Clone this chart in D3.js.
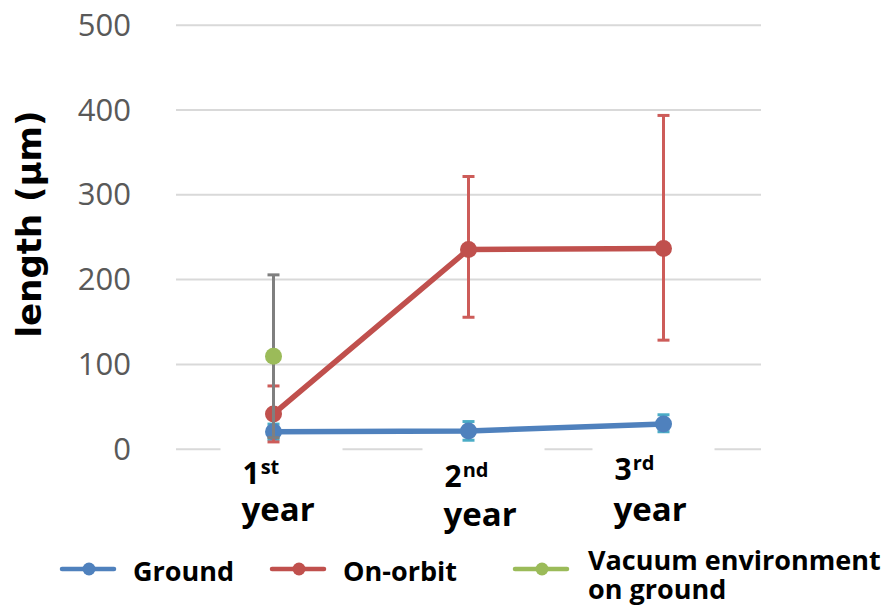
<!DOCTYPE html>
<html>
<head>
<meta charset="utf-8">
<script src="https://cdn.jsdelivr.net/npm/d3@7"></script>
<style>
  body { margin: 0; background: #fff; }
  svg text { font-family: "Open Sans", "Noto Sans", sans-serif; }
</style>
</head>
<body>
<div class="chart"></div>
<script>
// data
const categories = ['1st year', '2nd year', '3rd year'];
const catNum = ['1', '2', '3'];
const catSup = ['st', 'nd', 'rd'];
const yTicks = [0, 100, 200, 300, 400, 500];

const groundVals = [20, 21, 29];
const groundErrUp = [9, 11, 11];
const groundErrLow = [9, 11, 9];

const orbitVals = [41, 235, 236];
const orbitErrUp = [33, 86, 157];
const orbitErrLow = [33, 80, 108];

const vacuumVals = [109, null, null];
const vacuumErrUp = [96, null, null];
const vacuumErrLow = [96, null, null];

const series = [
  { name: 'Ground', vals: groundVals, up: groundErrUp, low: groundErrLow, color: '#4f81bd', errColor: '#4bacc6' },
  { name: 'On-orbit', vals: orbitVals, up: orbitErrUp, low: orbitErrLow, color: '#c0504d', errColor: '#cd5c59' },
  { name: 'Vacuum environment', name2: 'on ground', vals: vacuumVals, up: vacuumErrUp, low: vacuumErrLow, color: '#9bbb59', errColor: '#7f7f7f' }
];

const W = 892, H = 605;
const plotLeft = 176, plotRight = 761, plotTop = 24.7, plotBottom = 448.7;

const svg = d3.select('.chart').append('svg')
  .attr('width', W)
  .attr('height', H);

const x = d3.scalePoint()
  .domain(categories)
  .range([plotLeft, plotRight])
  .padding(0.5);

const y = d3.scaleLinear()
  .domain([0, 500])
  .range([plotBottom, plotTop]);

// gridlines (the 0 line is the axis)
svg.append('g')
  .attr('transform', `translate(${plotLeft},0)`)
  .call(d3.axisLeft(y).tickValues(yTicks).tickSize(-(plotRight - plotLeft)).tickFormat(''))
  .call(g => g.select('.domain').remove())
  .selectAll('line')
  .attr('stroke', '#d9d9d9')
  .attr('stroke-width', 2);

// y tick labels
svg.append('g')
  .selectAll('text')
  .data(yTicks)
  .enter()
  .append('text')
  .attr('x', 131)
  .attr('y', d => y(d) + 11)
  .attr('text-anchor', 'end')
  .attr('fill', '#595959')
  .style('font-size', '31px')
  .text(d => d);

// y label
svg.append('text')
  .attr('transform', 'rotate(-90)')
  .attr('x', -224)
  .attr('y', 41)
  .attr('text-anchor', 'middle')
  .style('font-family', '"DejaVu Sans", sans-serif')
  .style('font-size', '34px')
  .style('font-weight', 'bold')
  .attr('fill', '#000')
  .text('length (μm)');

// category label boxes, they cover the axis line like in the original
const boxOff = [-53, -46, -71];
const numBase = [484, 487, 480];
const yearBase = [521, 526, 521];
const cat = svg.append('g')
  .selectAll('g')
  .data(categories)
  .enter()
  .append('g');

cat.append('rect')
  .attr('x', (d, i) => x(d) + boxOff[i])
  .attr('y', plotBottom - 2)
  .attr('width', 122)
  .attr('height', 90)
  .attr('fill', '#fff');

const catText = cat.append('text')
  .attr('x', (d, i) => x(d) + boxOff[i] + 22)
  .attr('y', (d, i) => numBase[i])
  .style('font-size', '30px')
  .style('font-weight', 'bold')
  .attr('fill', '#000');
catText.append('tspan').text((d, i) => catNum[i]);
catText.append('tspan')
  .attr('dx', 1)
  .attr('dy', -10)
  .style('font-size', '20px')
  .text((d, i) => catSup[i]);

cat.append('text')
  .attr('x', (d, i) => x(d) + boxOff[i] + 21)
  .attr('y', (d, i) => yearBase[i])
  .style('font-size', '33px')
  .style('font-weight', 'bold')
  .attr('fill', '#000')
  .text('year');

// series
const line = d3.line()
  .x(d => x(d.c))
  .y(d => y(d.v));

series.forEach(s => {
  const pts = categories.map((c, i) => ({ c: c, v: s.vals[i], up: s.up[i], low: s.low[i] }))
    .filter(d => d.v != null);
  const g = svg.append('g');

  // error bars
  const eb = g.selectAll('.err')
    .data(pts)
    .enter()
    .append('g')
    .attr('class', 'err')
    .attr('stroke', s.errColor)
    .attr('stroke-width', 3);
  eb.append('line')
    .attr('x1', d => x(d.c)).attr('x2', d => x(d.c))
    .attr('y1', d => y(d.v + d.up)).attr('y2', d => y(d.v - d.low));
  eb.append('line')
    .attr('x1', d => x(d.c) - 6).attr('x2', d => x(d.c) + 6)
    .attr('y1', d => y(d.v + d.up)).attr('y2', d => y(d.v + d.up));
  eb.append('line')
    .attr('x1', d => x(d.c) - 6).attr('x2', d => x(d.c) + 6)
    .attr('y1', d => y(d.v - d.low)).attr('y2', d => y(d.v - d.low));

  g.append('path')
    .datum(pts)
    .attr('d', line)
    .attr('fill', 'none')
    .attr('stroke', s.color)
    .attr('stroke-width', 5.5)
    .attr('stroke-linejoin', 'round');

  g.selectAll('circle')
    .data(pts)
    .enter()
    .append('circle')
    .attr('cx', d => x(d.c))
    .attr('cy', d => y(d.v))
    .attr('r', 8.5)
    .attr('fill', s.color);
});

// legend
const legX = [62, 272, 515];
const leg = svg.append('g')
  .selectAll('g')
  .data(series)
  .enter()
  .append('g')
  .attr('transform', (d, i) => `translate(${legX[i]},569)`);

leg.append('line')
  .attr('x1', 0).attr('x2', 52)
  .attr('stroke', d => d.color)
  .attr('stroke-width', 4.5)
  .attr('stroke-linecap', 'round');
leg.append('circle')
  .attr('cx', 27)
  .attr('r', 6.5)
  .attr('fill', d => d.color);
leg.append('text')
  .attr('x', (d, i) => i === 2 ? 73 : 71)
  .attr('y', (d, i) => i === 2 ? 1 : 12)
  .style('font-size', '27px')
  .style('font-weight', 'bold')
  .attr('fill', '#000')
  .text(d => d.name);
leg.filter(d => d.name2)
  .append('text')
  .attr('x', 73)
  .attr('y', 30)
  .style('font-size', '27px')
  .style('font-weight', 'bold')
  .attr('fill', '#000')
  .text(d => d.name2);
</script>
</body>
</html>
